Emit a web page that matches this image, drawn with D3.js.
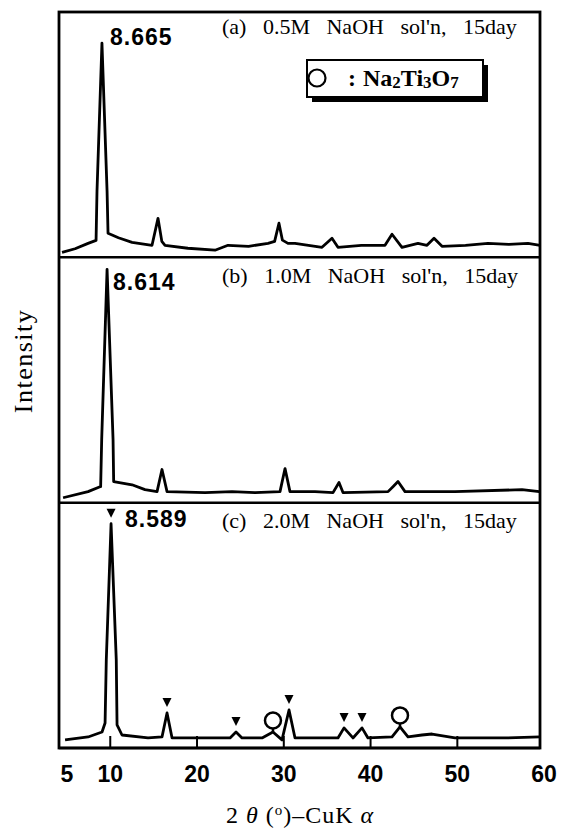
<!DOCTYPE html>
<html>
<head>
<meta charset="utf-8">
<script src="https://cdn.jsdelivr.net/npm/d3@7"></script>
<style>
  body { margin: 0; background: #fff; }
  svg { display: block; }
</style>
</head>
<body>
<svg id="chart"></svg>
<script>

var width = 569,
    height = 834;

// panels, top to bottom
var panels = ["a", "b", "c"];
var panelTitles = ["(a) 0.5M NaOH sol'n, 15day", "(b) 1.0M NaOH sol'n, 15day", "(c) 2.0M NaOH sol'n, 15day"];
var peakLabels = ["8.665", "8.614", "8.589"];

// 2theta (deg) / intensity (% of panel height)
var thetaA = [4.5, 6.0, 7.5, 8.42, 8.53, 9.1, 9.69, 9.8, 11.0, 12.57, 14.87, 15.56, 16.0, 16.37, 19.0, 22.13, 23.63, 26.0, 28.24, 29.0, 29.5, 29.9, 30.54, 31.35, 34.46, 35.61, 36.3, 39.0, 41.72, 42.53, 43.68, 45.52, 46.56, 47.37, 48.29, 51.0, 53.59, 56.0, 58.2, 59.6];
var intA   = [2.0, 3.5, 5.7, 6.9, 27, 87.3, 27, 9.8, 8.0, 6.1, 4.9, 15.9, 6.5, 4.9, 3.7, 2.9, 4.9, 4.5, 5.7, 6.5, 13.9, 7.0, 5.7, 5.7, 4.1, 7.8, 4.1, 4.9, 4.9, 9.4, 4.1, 5.7, 4.9, 7.8, 4.5, 4.9, 5.7, 5.3, 5.7, 4.9];

var thetaB = [4.62, 7.5, 8.88, 8.95, 9.07, 9.69, 10.38, 10.45, 12.57, 14.06, 15.45, 16.02, 16.6, 20.98, 24.09, 26.74, 29.62, 30.2, 30.77, 33.65, 35.73, 36.42, 36.88, 42.07, 42.64, 43.22, 44.03, 49.79, 57.51, 59.5];
var intB   = [2.0, 4.5, 6.5, 6.5, 25.7, 95.1, 25.7, 8.6, 7.3, 5.3, 4.5, 13.5, 4.5, 4.1, 4.5, 4.1, 4.5, 13.9, 4.5, 4.5, 4.1, 8.2, 4.1, 4.5, 6.5, 8.6, 4.5, 4.5, 5.3, 4.5];

var thetaC = [4.85, 7.5, 9.11, 9.46, 9.6, 10.15, 10.75, 10.84, 11.41, 14.41, 16.02, 16.6, 17.18, 20.98, 23.86, 24.55, 25.24, 27.55, 28.81, 29.85, 30.66, 31.35, 36.3, 37.0, 38.03, 39.07, 39.76, 42.53, 43.45, 44.37, 45.98, 47.14, 49.79, 55.55, 59.58];
var intC   = [3.3, 4.5, 6.5, 10.2, 35.9, 91.4, 35.9, 9.4, 5.3, 4.1, 4.5, 14.3, 4.1, 4.1, 4.1, 6.5, 4.1, 4.1, 6.5, 3.3, 15.5, 4.1, 4.1, 8.2, 4.1, 8.2, 4.1, 4.5, 8.6, 4.5, 5.3, 5.7, 4.1, 4.1, 4.5];

// markers on (c)
var trianglePeaks = [10.15, 16.6, 24.55, 30.66, 37.0, 39.07];
var circlePeaks = [28.81, 43.45];

var xTicks = [5, 10, 20, 30, 40, 50, 60];

var series = [
  {theta: thetaA, val: intA},
  {theta: thetaB, val: intB},
  {theta: thetaC, val: intC}
];

var serif = "'Liberation Serif', 'DejaVu Serif', serif",
    sans = "'Liberation Sans', Arial, sans-serif";

var plotL = 59, plotR = 540, plotT = 12, plotB = 748;

var svg = d3.select("#chart").attr("width", width).attr("height", height);
svg.append("rect").attr("width", width).attr("height", height).attr("fill", "#fff");

var x = d3.scaleLinear().domain([4.15, 59.7]).range([plotL, plotR + 1]);
var band = d3.scaleBand().domain(panels).range([plotT, plotB]);

var titleOff = [22, 26, 25];
var labelPos = [[110, 45], [113, 290], [125, 527]];

panels.forEach(function(p, i) {
  var y0 = band(p), y1 = y0 + band.bandwidth();
  var y = d3.scaleLinear().domain([0, 100]).range([y1, y0]);
  var s = series[i];
  var pts = s.theta.map(function(t, k) { return [t, s.val[k]]; });

  var line = d3.line()
      .x(function(d) { return x(d[0]); })
      .y(function(d) { return y(d[1]); });

  svg.append("path")
      .datum(pts)
      .attr("d", line)
      .attr("fill", "none")
      .attr("stroke", "#000")
      .attr("stroke-width", 2.8)
      .attr("stroke-linejoin", "round");

  // divider / bottom line
  svg.append("line")
      .attr("x1", plotL).attr("x2", plotR)
      .attr("y1", y1).attr("y2", y1)
      .attr("stroke", "#000").attr("stroke-width", 2.5);

  svg.append("text")
      .attr("x", 222).attr("y", y0 + titleOff[i])
      .style("font-family", serif).style("font-size", "22px")
      .style("word-spacing", "11px")
      .text(panelTitles[i]);

  svg.append("text")
      .attr("x", labelPos[i][0]).attr("y", labelPos[i][1])
      .style("font-family", sans).style("font-size", "23px").style("font-weight", "bold")
      .style("letter-spacing", "1px")
      .text(peakLabels[i]);

  if (p === "c") {
    var peakY = function(t) { return y(s.val[s.theta.indexOf(t)]); };

    svg.selectAll(".tri")
        .data(trianglePeaks)
        .enter()
        .append("path")
        .attr("class", "tri")
        .attr("d", function(t) {
          var cx = x(t), by = peakY(t) - 6;
          return "M" + (cx - 4.5) + "," + (by - 9) + "L" + (cx + 4.5) + "," + (by - 9) + "L" + cx + "," + by + "Z";
        })
        .attr("fill", "#000");

    svg.selectAll(".circ")
        .data(circlePeaks)
        .enter()
        .append("circle")
        .attr("class", "circ")
        .attr("cx", function(t) { return x(t); })
        .attr("cy", function(t) { return peakY(t) - 11.5; })
        .attr("r", 8)
        .attr("fill", "#fff")
        .attr("stroke", "#000")
        .attr("stroke-width", 2.5);

    svg.selectAll(".stem")
        .data(circlePeaks)
        .enter()
        .append("line")
        .attr("class", "stem")
        .attr("x1", function(t) { return x(t); })
        .attr("x2", function(t) { return x(t); })
        .attr("y1", function(t) { return peakY(t) - 3.5; })
        .attr("y2", function(t) { return peakY(t); })
        .attr("stroke", "#000").attr("stroke-width", 2.5);
  }
});

// outer frame
svg.append("rect")
    .attr("x", plotL).attr("y", plotT)
    .attr("width", plotR - plotL).attr("height", plotB - plotT)
    .attr("fill", "none").attr("stroke", "#000").attr("stroke-width", 2.8);

// x axis: inward ticks
var axis = d3.axisBottom(x)
    .tickValues(xTicks)
    .tickSizeInner(-12)
    .tickSizeOuter(0)
    .tickPadding(18)
    .tickFormat(d3.format("d"));

var gx = svg.append("g").attr("transform", "translate(0," + plotB + ")").call(axis);
gx.select(".domain").remove();
gx.selectAll(".tick line")
    .attr("stroke", "#000").attr("stroke-width", 2)
    .attr("display", function(d) { return (d === 5 || d === 60) ? "none" : null; });
gx.selectAll(".tick text")
    .attr("fill", "#000")
    .style("font-family", sans).style("font-size", "23px").style("font-weight", "bold");

// legend
var lg = svg.append("g").attr("transform", "translate(307,60)");
lg.append("rect").attr("x", 5).attr("y", 5).attr("width", 176).attr("height", 37).attr("fill", "#000");
lg.append("rect").attr("width", 176).attr("height", 37).attr("fill", "#fff").attr("stroke", "#000").attr("stroke-width", 2);
lg.append("circle").attr("cx", 10).attr("cy", 18).attr("r", 8.5).attr("fill", "none").attr("stroke", "#000").attr("stroke-width", 2.2);
var lt = lg.append("text").attr("x", 41).attr("y", 26)
    .style("font-family", serif).style("font-size", "24px").style("font-weight", "bold");
lt.append("tspan").text(":");
lt.append("tspan").attr("x", 56).text("Na");
lt.append("tspan").attr("dy", 2).style("font-size", "17px").text("2");
lt.append("tspan").attr("dy", -2).text("Ti");
lt.append("tspan").attr("dy", 2).style("font-size", "17px").text("3");
lt.append("tspan").attr("dy", -2).text("O");
lt.append("tspan").attr("dy", 2).style("font-size", "17px").text("7");

// axis titles
svg.append("text")
    .attr("transform", "translate(32,361) rotate(-90)")
    .attr("text-anchor", "middle")
    .style("font-family", serif).style("font-size", "26px")
    .style("letter-spacing", "1.5px")
    .text("Intensity");

var xt = svg.append("text")
    .attr("x", 300).attr("y", 823)
    .attr("text-anchor", "middle")
    .style("font-family", serif).style("font-size", "24px")
    .style("letter-spacing", "1px");
xt.append("tspan").text("2 ");
xt.append("tspan").style("font-style", "italic").text("θ");
xt.append("tspan").text(" (");
xt.append("tspan").attr("dy", -8).style("font-size", "15px").text("o");
xt.append("tspan").attr("dy", 8).text(")–CuK ");
xt.append("tspan").style("font-style", "italic").text("α");

</script>
</body>
</html>
